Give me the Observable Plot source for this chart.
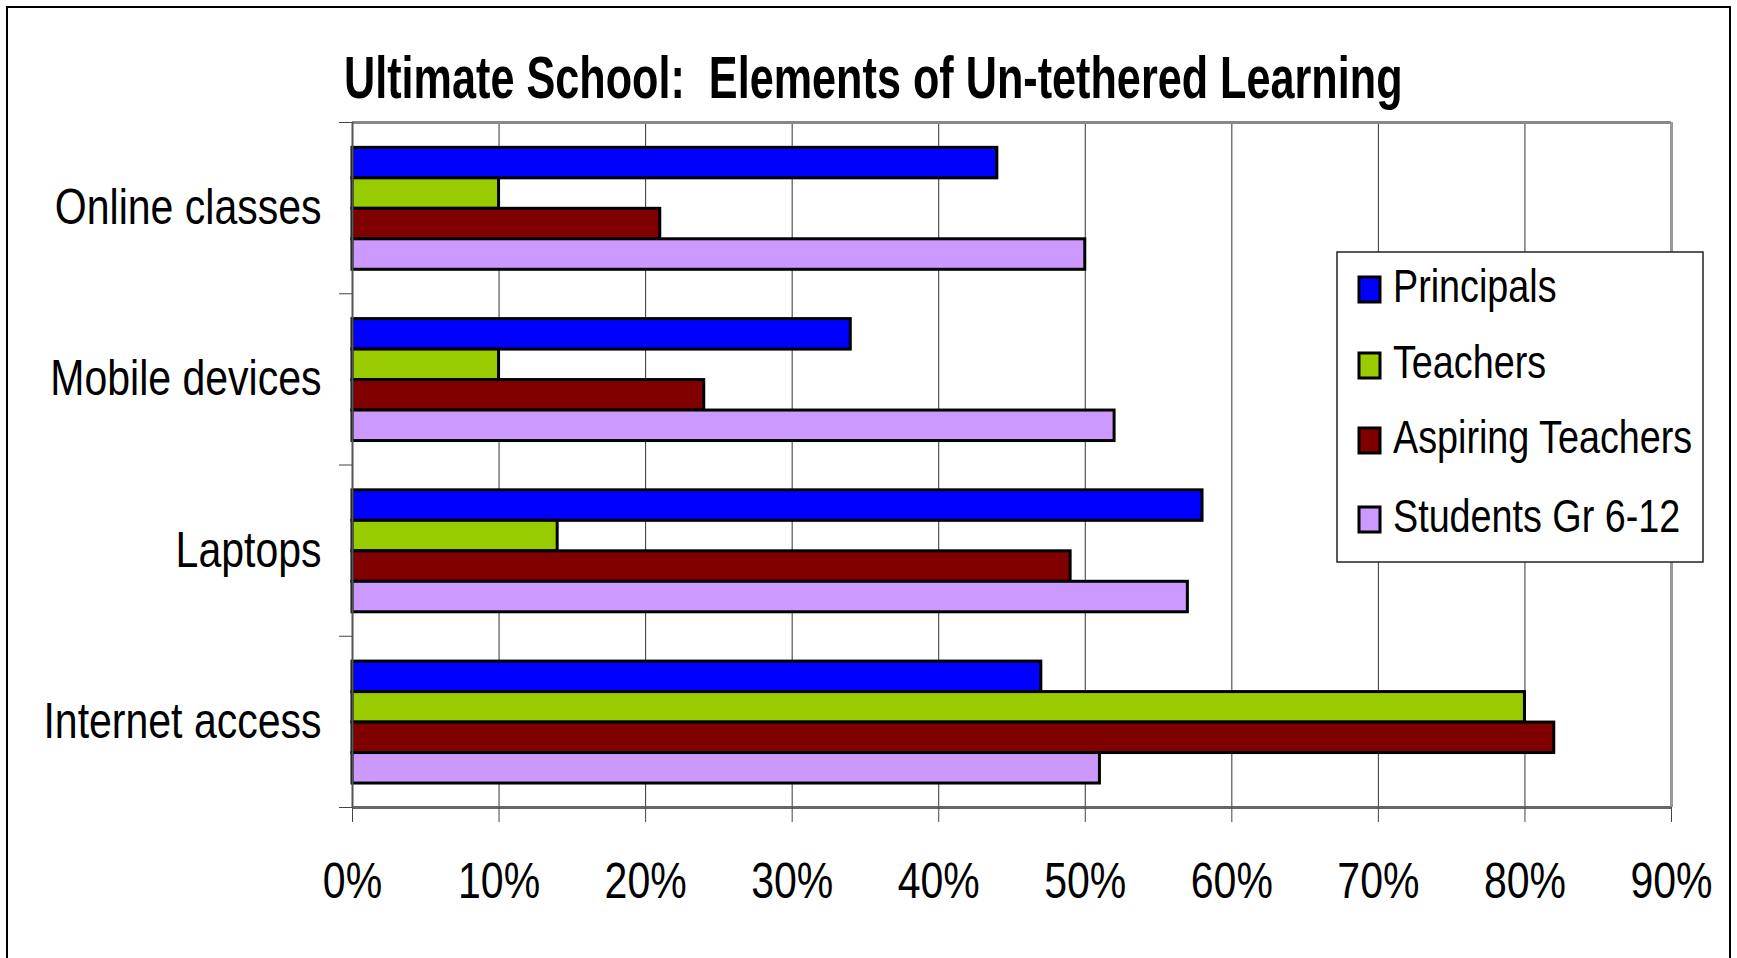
<!DOCTYPE html>
<html><head><meta charset="utf-8">
<script src="https://cdn.jsdelivr.net/npm/d3@7"></script>
<script src="https://cdn.jsdelivr.net/npm/@observablehq/plot@0.6"></script>
<style>
body{margin:0;background:#fff;}
#wrap{position:relative;width:1737px;height:958px;overflow:hidden;}
#border{position:absolute;left:6px;top:6px;width:1725px;height:1000px;border:2px solid #000;box-sizing:border-box;}
#chart{position:absolute;left:0;top:0;}
#overlay{position:absolute;left:0;top:0;pointer-events:none;}
</style>
</head><body>
<div id="wrap"><div id="border"></div><div id="chart"></div><svg id="overlay" width="1737" height="958"></svg></div>
<script>
const categories = ["Online classes","Mobile devices","Laptops","Internet access"];
const series = ["Principals","Teachers","Aspiring Teachers","Students Gr 6-12"];
const principals = [0.44,0.34,0.58,0.47];
const teachers   = [0.10,0.10,0.14,0.80];
const aspiring   = [0.21,0.24,0.49,0.82];
const students   = [0.50,0.52,0.57,0.51];
const colors = ["#0000FF","#99CC00","#800000","#CC99FF"];
const xTicks = [0,0.1,0.2,0.3,0.4,0.5,0.6,0.7,0.8,0.9];
const titleText = "Ultimate School:  Elements of Un-tethered Learning";

const FONT = '"Liberation Sans",Arial,sans-serif';
const NARROW = 0.82;
const rows = [];
[principals,teachers,aspiring,students].forEach((vals,s)=>vals.forEach((v,c)=>rows.push({category:categories[c],ci:c,series:series[s],si:s,value:v})));
const OFF = 0.148, BH = 0.178;

const chart = Plot.plot({
  width:1737, height:958,
  marginLeft:352, marginRight:66, marginTop:122, marginBottom:151,
  style:{fontFamily:FONT, background:"transparent", color:"#000"},
  x:{domain:[0,0.9], label:null},
  y:{domain:[0,4], reverse:true, label:null},
  color:{domain:series, range:colors},
  marks:[
    Plot.gridX(xTicks,{stroke:"#333", strokeOpacity:1, strokeWidth:1}),
    Plot.rect(rows,{x1:0, x2:"value", y1:d=>d.ci+OFF+BH*d.si, y2:d=>d.ci+OFF+BH*(d.si+1), fill:"series", stroke:"#000", strokeWidth:3}),
    Plot.ruleY([0],{stroke:"#888", strokeWidth:3}),
    Plot.ruleX([0.9],{stroke:"#999", strokeWidth:3}),
    Plot.ruleY([4],{stroke:"#666", strokeWidth:3}),
    Plot.ruleX([0],{stroke:"#555", strokeWidth:2}),
    Plot.axisY({ticks:[0,1,2,3,4], tickSize:13, tickFormat:()=>"", stroke:"#444", label:null}),
    Plot.axisY({ticks:[0.5,1.5,2.5,3.5], tickSize:0, tickPadding:31, tickFormat:d=>categories[Math.floor(d)], fontSize:50, fill:"#000", label:null}),
    Plot.axisX({ticks:xTicks, tickSize:15, tickPadding:40, tickFormat:d3.format(".0%"), fontSize:50, fill:"#000", stroke:"#444", label:null})
  ]
});
document.getElementById("chart").appendChild(chart);

const ov = d3.select("#overlay");
const title = ov.append("text").attr("x",344).attr("y",98).attr("font-family",FONT).attr("font-weight","bold")
  .attr("font-size",60).attr("fill","#000").style("white-space","pre").attr("data-narrow",0.72).text(titleText);
const lg = ov.append("g");
lg.append("rect").attr("x",1337).attr("y",252).attr("width",366).attr("height",310)
  .attr("fill","#fff").attr("stroke","#222").attr("stroke-width",1.5);
const baselines = [302,378,453,532];
series.forEach((s,i)=>{
  lg.append("rect").attr("x",1359).attr("y",baselines[i]-25).attr("width",21).attr("height",25)
    .attr("fill",colors[i]).attr("stroke","#000").attr("stroke-width",3);
  lg.append("text").attr("x",1393).attr("y",baselines[i]).attr("font-family",FONT)
    .attr("font-size",46).attr("fill","#000").text(s);
});

// condense all texts to an Arial-Narrow-like width
document.querySelectorAll("#wrap text").forEach(t=>{
  const w = t.getComputedTextLength();
  const f = t.getAttribute("data-narrow") ? +t.getAttribute("data-narrow") : NARROW;
  if (w > 0) { t.setAttribute("textLength", w*f); t.setAttribute("lengthAdjust","spacingAndGlyphs"); }
});
</script>
</body></html>
